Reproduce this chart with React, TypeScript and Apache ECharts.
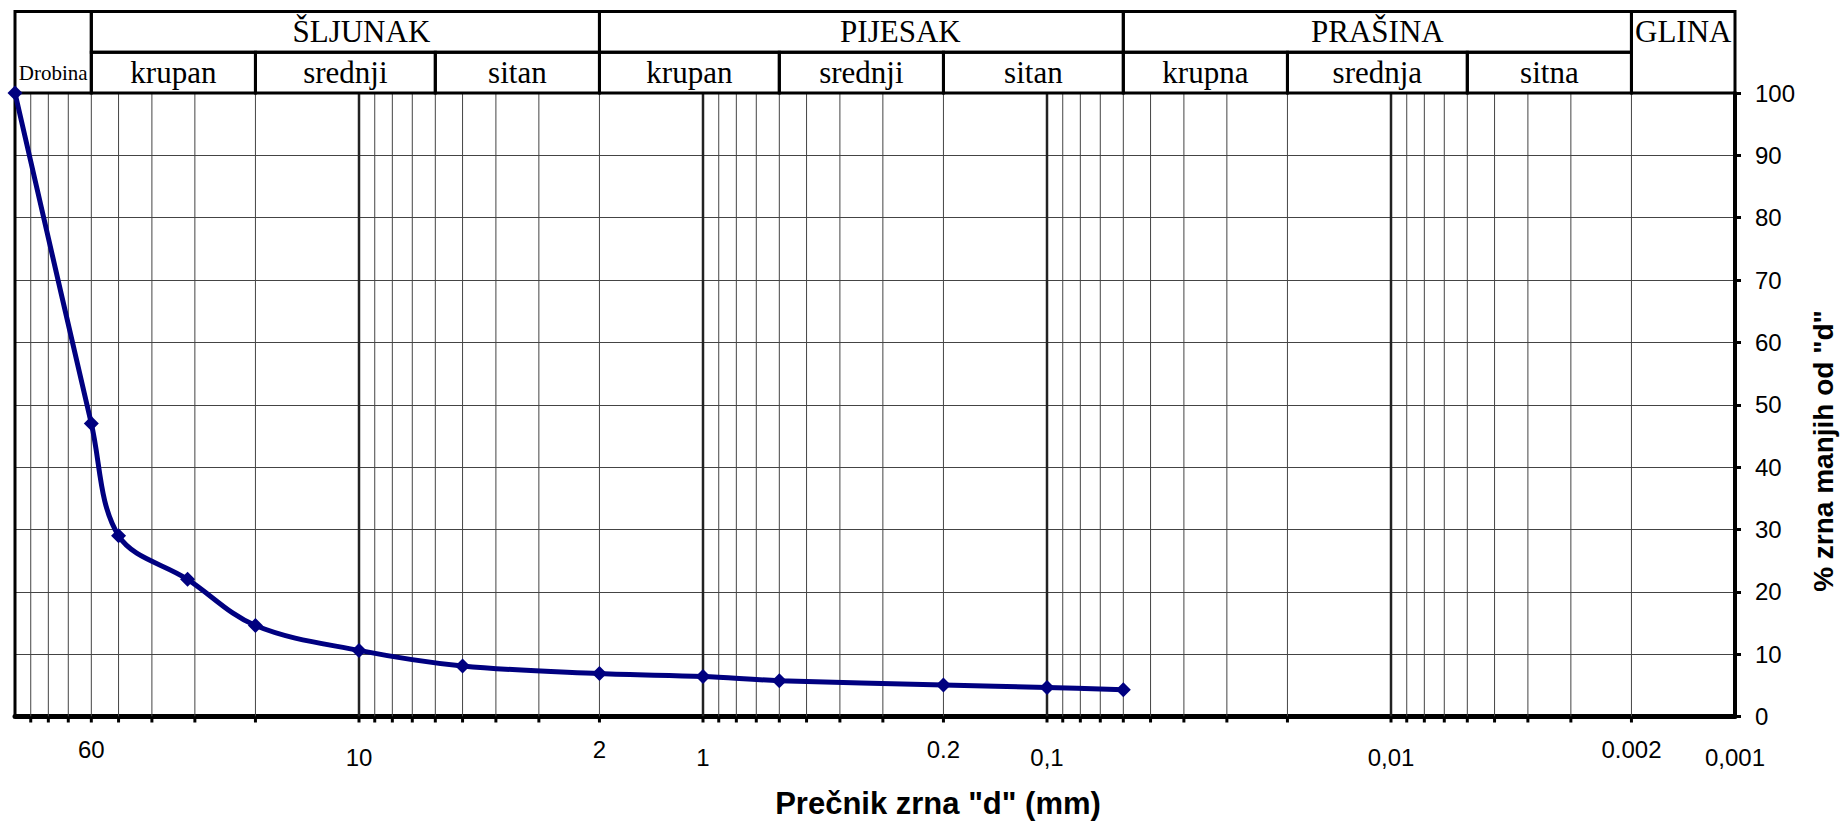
import React, { useEffect, useRef } from "react";
import * as echarts from "echarts";

// Sieve analysis data: grain diameter (mm) and % passing
const diameters = [100, 60, 50, 31.5, 20, 10, 5, 2, 1, 0.6, 0.2, 0.1, 0.06];
const passing = [100, 47, 29, 22, 14.6, 10.6, 8.1, 6.9, 6.4, 5.75, 5.05, 4.65, 4.3];

// Vertical grid lines of the log paper
const minorGrid = [
  90, 80, 70, 60, 50, 40, 30, 20,
  9, 8, 7, 6, 5, 4, 3, 2,
  0.9, 0.8, 0.7, 0.6, 0.5, 0.4, 0.3, 0.2,
  0.09, 0.08, 0.07, 0.06, 0.05, 0.04, 0.03, 0.02,
  0.009, 0.008, 0.007, 0.006, 0.005, 0.004, 0.003, 0.002,
];
const decadeGrid = [10, 1, 0.1, 0.01];
const leftEdge = [100];

// X tick labels
const xLabelValues = [60, 10, 2, 1, 0.2, 0.1, 0.01, 0.002, 0.001];
const xLabelTexts = ["60", "10", "2", "1", "0.2", "0,1", "0,01", "0.002", "0,001"];

// Header (soil classification)
const mainGroups = ["ŠLJUNAK", "PIJESAK", "PRAŠINA"];
const mainBounds = [60, 2, 0.06, 0.002];
const subGroups = ["krupan", "srednji", "sitan", "krupan", "srednji", "sitan", "krupna", "srednja", "sitna"];
const subBounds = [60, 20, 6, 2, 0.6, 0.2, 0.06, 0.02, 0.006, 0.002];
const bouldersLabel = "Drobina";
const bouldersRange = [100, 60];
const clayLabel = "GLINA";
const clayRange = [0.002, 0.001];

const xTitle = 'Prečnik zrna "d" (mm)';
const yTitle = '% zrna manjih od "d"';

type Cell = { x0: number; x1: number; y0: number; y1: number; ty: number; label: string; fs: number; dx: number };

// horizontal nudges of the group titles, as placed in the original drawing (px)
const mainTitleNudge = [16, 39, 0];

function buildCells(): Cell[] {
  const cells: Cell[] = [];
  cells.push({ x0: bouldersRange[0], x1: bouldersRange[1], y0: 0, y1: 2, ty: 0.5, label: bouldersLabel, fs: 21, dx: 0 });
  mainGroups.forEach((g, i) => {
    cells.push({ x0: mainBounds[i], x1: mainBounds[i + 1], y0: 1, y1: 2, ty: 1.5, label: g, fs: 31, dx: mainTitleNudge[i] });
  });
  subGroups.forEach((g, i) => {
    cells.push({ x0: subBounds[i], x1: subBounds[i + 1], y0: 0, y1: 1, ty: 0.5, label: g, fs: 31, dx: 0 });
  });
  cells.push({ x0: clayRange[0], x1: clayRange[1], y0: 0, y1: 2, ty: 1.5, label: clayLabel, fs: 31, dx: 0 });
  return cells;
}

export default function App() {
  const ref = useRef<HTMLDivElement>(null);

  useEffect(() => {
    if (!ref.current) return;
    const chart = echarts.init(ref.current, undefined, { renderer: "svg" });
    const cells = buildCells();

    const gridLines = [
      ...minorGrid.map((v) => ({ v, kind: "minor" })),
      ...decadeGrid.map((v) => ({ v, kind: "decade" })),
      ...leftEdge.map((v) => ({ v, kind: "edge" })),
    ];
    const tickValues = [...minorGrid, ...decadeGrid];

    const option: any = {
      animation: false,
      backgroundColor: "#ffffff",
      grid: [
        { left: 15, right: 107, top: 93, bottom: 105.5, outerBoundsMode: "none" },
        { left: 15, right: 107, top: 11.5, height: 81.5, outerBoundsMode: "none" },
      ],
      xAxis: [
        {
          type: "log",
          logBase: 10,
          min: 0.001,
          max: 100,
          inverse: true,
          gridIndex: 0,
          position: "bottom",
          axisLine: { show: true, onZero: false, lineStyle: { color: "#000", width: 5 } },
          axisTick: { show: false },
          axisLabel: { show: false },
          splitLine: { show: false },
          minorTick: { show: false },
          minorSplitLine: { show: false },
        },
        {
          type: "log",
          logBase: 10,
          min: 0.001,
          max: 100,
          inverse: true,
          gridIndex: 1,
          show: false,
        },
      ],
      yAxis: [
        {
          type: "value",
          min: 0,
          max: 100,
          interval: 10,
          position: "right",
          gridIndex: 0,
          axisLine: { show: true, lineStyle: { color: "#000", width: 4 } },
          axisTick: { show: true, length: 6, lineStyle: { color: "#000", width: 3 } },
          axisLabel: { color: "#000", fontSize: 24, fontFamily: "Liberation Sans", margin: 20 },
          splitLine: { show: true, lineStyle: { color: "#444", width: 1 } },
        },
        { type: "value", min: 0, max: 2, gridIndex: 1, show: false },
      ],
      graphic: [
        {
          type: "text",
          x: 938,
          y: 803,
          style: {
            text: xTitle,
            fill: "#000",
            fontSize: 31,
            fontWeight: "bold",
            fontFamily: "Liberation Sans",
            align: "center",
            verticalAlign: "middle",
          },
        },
        {
          type: "text",
          x: 1823,
          y: 451,
          rotation: Math.PI / 2,
          style: {
            text: yTitle,
            fill: "#000",
            fontSize: 28,
            fontWeight: "bold",
            fontFamily: "Liberation Sans",
            align: "center",
            verticalAlign: "middle",
          },
        },
      ],
      series: [
        {
          type: "custom",
          name: "grid",
          xAxisIndex: 0,
          yAxisIndex: 0,
          clip: false,
          silent: true,
          z: 1,
          data: gridLines.map((g) => [g.v, 0]),
          encode: { x: 0, y: 1 },
          renderItem: (params: any, api: any) => {
            const g = gridLines[params.dataIndex];
            const v = api.value(0);
            const top = api.coord([v, 100]);
            const bot = api.coord([v, 0]);
            const style =
              g.kind === "decade"
                ? { stroke: "#222", lineWidth: 2.5 }
                : g.kind === "edge"
                ? { stroke: "#000", lineWidth: 3 }
                : { stroke: "#444", lineWidth: 1 };
            return {
              type: "line",
              shape: { x1: top[0], y1: top[1], x2: bot[0], y2: bot[1] },
              style,
            };
          },
        },
        {
          type: "custom",
          name: "ticks",
          xAxisIndex: 0,
          yAxisIndex: 0,
          clip: false,
          silent: true,
          z: 6,
          data: tickValues.map((v) => [v, 0]),
          encode: { x: 0, y: 1 },
          renderItem: (params: any, api: any) => {
            const p = api.coord([api.value(0), 0]);
            return {
              type: "line",
              shape: { x1: p[0], y1: p[1], x2: p[0], y2: p[1] + 6 },
              style: { stroke: "#000", lineWidth: 3 },
            };
          },
        },
        {
          type: "custom",
          name: "xlabels",
          xAxisIndex: 0,
          yAxisIndex: 0,
          clip: false,
          silent: true,
          z: 6,
          data: xLabelValues.map((v) => [v, 0]),
          encode: { x: 0, y: 1 },
          renderItem: (params: any, api: any) => {
            const v = xLabelValues[params.dataIndex];
            const p = api.coord([v, 0]);
            const lg = Math.log10(v);
            const isDecade = Math.abs(lg - Math.round(lg)) < 1e-6;
            return {
              type: "text",
              x: p[0],
              y: p[1] + (isDecade ? 41 : 33),
              style: {
                text: xLabelTexts[params.dataIndex],
                fill: "#000",
                fontSize: 24,
                fontFamily: "Liberation Sans",
                align: "center",
                verticalAlign: "middle",
              },
            };
          },
        },
        {
          type: "custom",
          name: "header",
          xAxisIndex: 1,
          yAxisIndex: 1,
          clip: false,
          silent: true,
          z: 4,
          data: cells.map((c) => [c.x0, c.y0]),
          encode: { x: 0, y: 1 },
          renderItem: (params: any, api: any) => {
            const c = cells[params.dataIndex];
            const p0 = api.coord([c.x0, c.y0]);
            const p1 = api.coord([c.x1, c.y1]);
            const tc = api.coord([Math.sqrt(c.x0 * c.x1), c.ty]);
            return {
              type: "group",
              children: [
                {
                  type: "rect",
                  shape: {
                    x: Math.min(p0[0], p1[0]),
                    y: Math.min(p0[1], p1[1]),
                    width: Math.abs(p1[0] - p0[0]),
                    height: Math.abs(p1[1] - p0[1]),
                  },
                  style: { fill: "none", stroke: "#000", lineWidth: 3 },
                },
                {
                  type: "text",
                  x: tc[0] + c.dx,
                  y: tc[1],
                  style: {
                    text: c.label,
                    fill: "#000",
                    fontSize: c.fs,
                    fontFamily: "Liberation Serif",
                    align: "center",
                    verticalAlign: "middle",
                  },
                },
              ],
            };
          },
        },
        {
          type: "line",
          name: "granulometrija",
          xAxisIndex: 0,
          yAxisIndex: 0,
          z: 8,
          data: diameters.map((d, i) => [d, passing[i]]),
          smooth: 0.35,
          symbol: "diamond",
          symbolSize: 15,
          lineStyle: { color: "#000080", width: 5 },
          itemStyle: { color: "#000080" },
        },
      ],
    };

    chart.setOption(option);
    return () => chart.dispose();
  }, []);

  return (
    <div
      ref={ref}
      style={{ position: "fixed", left: 0, top: 0, width: 1842, height: 822, background: "#fff" }}
    />
  );
}
